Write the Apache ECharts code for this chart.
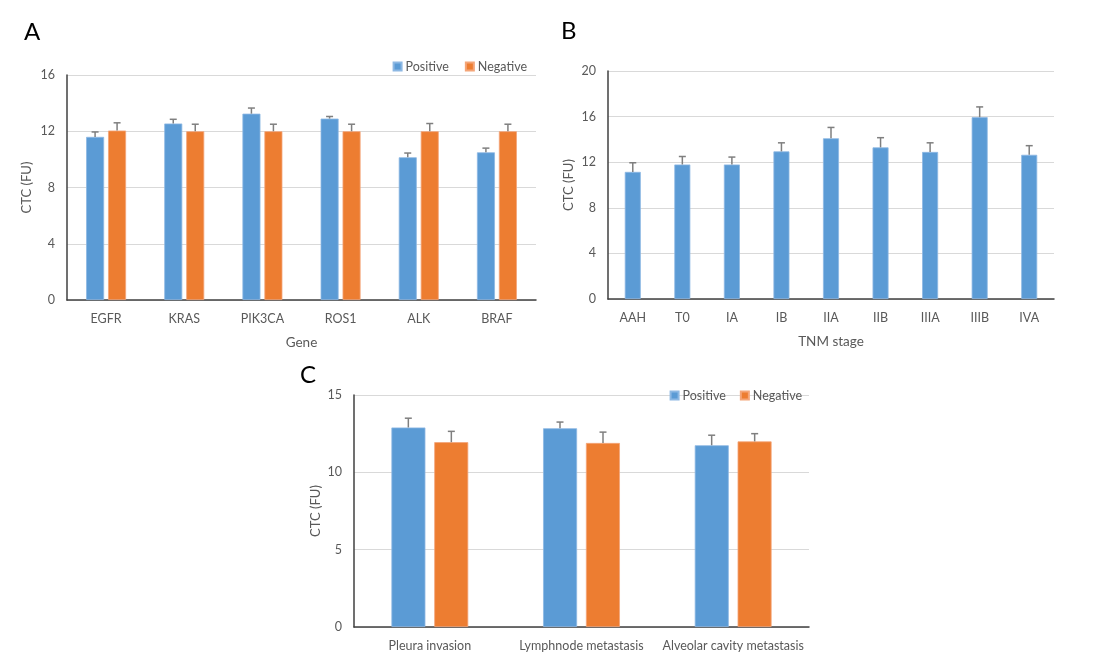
<!DOCTYPE html>
<html><head><meta charset="utf-8">
<script src="https://cdn.jsdelivr.net/npm/echarts@6/dist/echarts.min.js"></script>
<style>html,body{margin:0;padding:0;background:#fff}#c{width:1106px;height:658px}</style>
</head><body><div id="c"></div>
<script>
// Panel A: gene mutation status
const geneCats = ['EGFR','KRAS','PIK3CA','ROS1','ALK','BRAF'];
const genePos = [11.6,12.55,13.25,12.9,10.15,10.5];
const genePosErr = [0.35,0.3,0.4,0.15,0.3,0.3];
const geneNeg = [12.05,12.0,12.0,12.0,12.0,12.0];
const geneNegErr = [0.55,0.5,0.5,0.5,0.55,0.5];
const geneTicks = [0,4,8,12,16];
// Panel B: TNM stage
const stageCats = ['AAH','T0','IA','IB','IIA','IIB','IIIA','IIIB','IVA'];
const stageVals = [11.15,11.8,11.8,12.95,14.1,13.3,12.9,15.95,12.65];
const stageErr = [0.8,0.7,0.65,0.75,0.95,0.85,0.8,0.9,0.8];
const stageTicks = [0,4,8,12,16,20];
// Panel C: invasion / metastasis
const featCats = ['Pleura invasion','Lymphnode metastasis','Alveolar cavity metastasis'];
const featPos = [12.9,12.85,11.75];
const featPosErr = [0.6,0.4,0.65];
const featNeg = [11.95,11.9,12.0];
const featNegErr = [0.7,0.7,0.5];
const featTicks = [0,5,10,15];

const BLUE = '#5B9BD5', ORANGE = '#ED7D31', TXT = '#595959', ERR = '#7F7F7F';
const FONT = 'Lato';

function errData(vals, errs){ return vals.map((v,i)=>[i, v, v+errs[i]]); }
function errSeries(name, xi, yi, vals, errs, offset){
  return {
    type:'custom', name:name, xAxisIndex:xi, yAxisIndex:yi, z:5, silent:true,
    encode:{x:0, y:[1,2]},
    data: errData(vals, errs),
    renderItem: function(params, api){
      const b = api.coord([api.value(0), api.value(1)]);
      const t = api.coord([api.value(0), api.value(2)]);
      const x = b[0] + offset;
      const st = {stroke: ERR, lineWidth: 1.5};
      return {type:'group', children:[
        {type:'line', shape:{x1:x, y1:b[1], x2:x, y2:t[1]}, style:st},
        {type:'line', shape:{x1:x-3.5, y1:t[1], x2:x+3.5, y2:t[1]}, style:st}
      ]};
    }
  };
}
function yAx(gi, max, interval, gap){
  return {type:'value', gridIndex:gi, min:0, max:max, interval:interval,
    name:'CTC (FU)', nameLocation:'middle', nameGap:gap, nameRotate:90,
    nameTextStyle:{color:TXT, fontSize:13, fontFamily:FONT},
    axisLine:{show:true, lineStyle:{color:'#404040', width:1.5}},
    axisTick:{show:false},
    axisLabel:{color:TXT, fontSize:12.5, fontFamily:FONT, margin:12},
    splitLine:{lineStyle:{color:'#D9D9D9', width:1}}};
}
function xAx(gi, cats, name){
  return {type:'category', gridIndex:gi, data:cats,
    name:name, nameLocation:'middle', nameGap:36,
    nameTextStyle:{color:TXT, fontSize:13.5, fontFamily:FONT},
    axisLine:{lineStyle:{color:'#404040', width:1.5}},
    axisTick:{show:false},
    axisLabel:{color:TXT, fontSize:12.5, fontFamily:FONT, margin:12, interval:0}};
}
const letter = {fontSize:24, fontWeight:'normal', color:'#000', fontFamily:FONT};
const chart = echarts.init(document.getElementById('c'), null, {renderer:'canvas'});
chart.setOption({
  backgroundColor:'#fff',
  animation:false,
  title:[
    {text:'A', left:19, top:15, textStyle:letter},
    {text:'B', left:556, top:14, textStyle:letter},
    {text:'C', left:295, top:358, textStyle:letter}
  ],
  legend:[
    {data:['Positive','Negative'], right:574, top:55, itemWidth:8, itemHeight:8, itemGap:16,
     icon:'rect', textStyle:{color:TXT, fontSize:12.5, fontFamily:FONT, padding:[0,0,0,-1]}},
    {data:['Positive','Negative'], right:299, top:384, itemWidth:8, itemHeight:8, itemGap:14,
     icon:'rect', textStyle:{color:TXT, fontSize:12.5, fontFamily:FONT, padding:[0,0,0,-1]}}
  ],
  grid:[
    {left:67, top:75, width:469, height:225},
    {left:608, top:71, width:446, height:228},
    {left:354, top:395, width:455, height:232}
  ],
  xAxis:[ xAx(0, geneCats, 'Gene'), xAx(1, stageCats, 'TNM stage'), xAx(2, featCats, '') ],
  yAxis:[ yAx(0, 16, 4, 34), yAx(1, 20, 4, 33), yAx(2, 15, 5, 32) ],
  series:[
    {type:'bar', name:'Positive', xAxisIndex:0, yAxisIndex:0, data:genePos, barWidth:18, barGap:'22%',
     itemStyle:{color:BLUE, borderColor:'#8DB8E3', borderWidth:0.8}},
    {type:'bar', name:'Negative', xAxisIndex:0, yAxisIndex:0, data:geneNeg, barWidth:18, barGap:'22%',
     itemStyle:{color:ORANGE, borderColor:'#F4A578', borderWidth:0.8}},
    errSeries('Positive', 0, 0, genePos, genePosErr, -11),
    errSeries('Negative', 0, 0, geneNeg, geneNegErr, 11),
    {type:'bar', name:'Stage', xAxisIndex:1, yAxisIndex:1, data:stageVals, barWidth:16,
     itemStyle:{color:BLUE, borderColor:'#8DB8E3', borderWidth:0.8}},
    errSeries('Stage', 1, 1, stageVals, stageErr, 0),
    {type:'bar', name:'Positive', xAxisIndex:2, yAxisIndex:2, data:featPos, barWidth:34, barGap:'26%',
     itemStyle:{color:BLUE, borderColor:'#8DB8E3', borderWidth:0.8}},
    {type:'bar', name:'Negative', xAxisIndex:2, yAxisIndex:2, data:featNeg, barWidth:34, barGap:'26%',
     itemStyle:{color:ORANGE, borderColor:'#F4A578', borderWidth:0.8}},
    errSeries('Positive', 2, 2, featPos, featPosErr, -21.5),
    errSeries('Negative', 2, 2, featNeg, featNegErr, 21.5)
  ]
});
</script></body></html>
